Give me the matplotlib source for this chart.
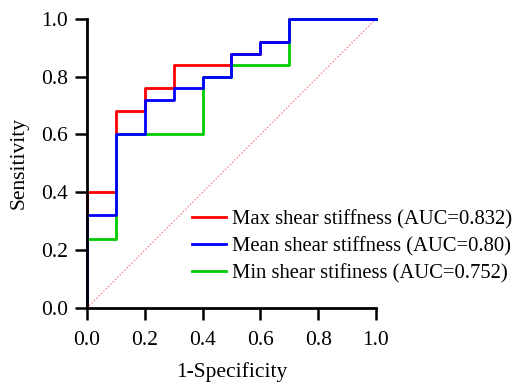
import matplotlib.pyplot as plt

plt.rcParams['font.family'] = ['Liberation Serif', 'DejaVu Serif']

# ROC step points
fpr_max = [0.0, 0.0, 0.1, 0.1, 0.2, 0.2, 0.3, 0.3, 0.5, 0.5, 0.6, 0.6, 0.7, 0.7, 1.0]
tpr_max = [0.0, 0.40, 0.40, 0.68, 0.68, 0.76, 0.76, 0.84, 0.84, 0.88, 0.88, 0.92, 0.92, 1.0, 1.0]

fpr_mean = [0.0, 0.0, 0.1, 0.1, 0.2, 0.2, 0.3, 0.3, 0.4, 0.4, 0.5, 0.5, 0.6, 0.6, 0.7, 0.7, 1.0]
tpr_mean = [0.0, 0.32, 0.32, 0.60, 0.60, 0.72, 0.72, 0.76, 0.76, 0.80, 0.80, 0.88, 0.88, 0.92, 0.92, 1.0, 1.0]

fpr_min = [0.0, 0.0, 0.1, 0.1, 0.4, 0.4, 0.5, 0.5, 0.7, 0.7, 1.0]
tpr_min = [0.0, 0.24, 0.24, 0.60, 0.60, 0.80, 0.80, 0.84, 0.84, 1.0, 1.0]

labels = ['Max shear stiffness (AUC=0.832)',
          'Mean shear stiffness (AUC=0.80)',
          'Min shear stifiness (AUC=0.752)']
ticks = [0.0, 0.2, 0.4, 0.6, 0.8, 1.0]

fig = plt.figure(figsize=(5.15, 3.84), dpi=100)
ax = fig.add_axes([0.169, 0.198, 0.561, 0.753])

ax.plot([0, 1], [0, 1], color='#f07070', linestyle=':', linewidth=0.9)
l1, = ax.plot(fpr_max, tpr_max, color='#ff0000', linewidth=2.0, label=labels[0], clip_on=False)
l3, = ax.plot(fpr_min, tpr_min, color='#00cc00', linewidth=2.0, label=labels[2], clip_on=False)
l2, = ax.plot(fpr_mean, tpr_mean, color='#0000ff', linewidth=2.0, label=labels[1], clip_on=False)

ax.set_xlim(0, 1)
ax.set_ylim(0, 1)
ax.set_xticks(ticks)
ax.set_yticks(ticks)
ax.set_xticklabels([f'{t:.1f}' for t in ticks])
ax.set_yticklabels([f'{t:.1f}' for t in ticks])
ax.tick_params(direction='out', length=8.5, width=1.8, labelsize=15.5, pad=5)
ax.tick_params(axis='x', pad=8)
for s in ['top', 'right']:
    ax.spines[s].set_visible(False)
for s in ['left', 'bottom']:
    ax.spines[s].set_linewidth(2.0)

ax.set_xlabel('1-Specificity', fontsize=15.5, labelpad=9)
ax.set_ylabel('Sensitivity', fontsize=15.5, labelpad=9)

ax.legend(handles=[l1, l2, l3], loc='upper left', bbox_to_anchor=(0.365, 0.34),
          frameon=False, fontsize=14.9, handlelength=1.6, handletextpad=0.3,
          labelspacing=0.37, borderpad=0, borderaxespad=0)

plt.savefig('out.png', dpi=100)
